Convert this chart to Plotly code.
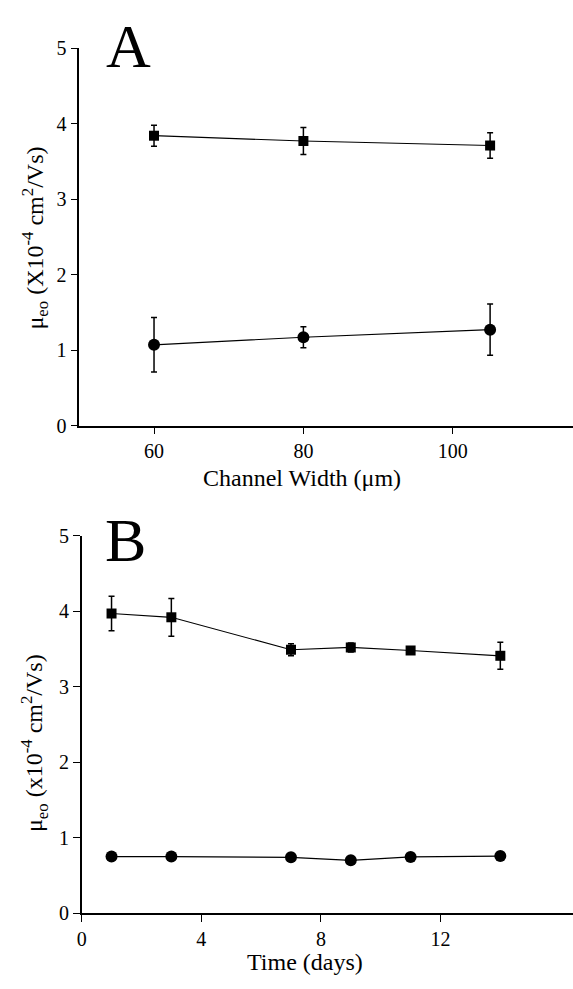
import plotly.graph_objects as go

# Panel A: channel width
width_um = [60, 80, 105]
a_square = [3.84, 3.77, 3.71]
a_square_err = [0.14, 0.18, 0.17]
a_circle = [1.07, 1.17, 1.27]
a_circle_err = [0.36, 0.14, 0.34]

# Panel B: time
time_days = [1, 3, 7, 9, 11, 14]
b_square = [3.97, 3.92, 3.49, 3.52, 3.48, 3.41]
b_square_err = [0.23, 0.25, 0.08, 0.06, 0.03, 0.18]
b_circle = [0.75, 0.75, 0.74, 0.70, 0.745, 0.757]
b_circle_err = [0.0, 0.0, 0.0, 0.0, 0.0, 0.05]

a_xticks = [60, 80, 100]
b_xticks = [0, 4, 8, 12]
yticks = [0, 1, 2, 3, 4, 5]

W, H = 573, 989
FONT = "Liberation Serif, Times New Roman, serif"

fig = go.Figure()

def add_series(x, y, err, symbol, size, xa, ya):
    fig.add_trace(go.Scatter(
        x=x, y=y, mode="lines+markers",
        line=dict(color="black", width=1.2),
        marker=dict(symbol=symbol, size=size, color="black"),
        error_y=dict(type="data", array=err, visible=True, color="black",
                     thickness=1.5, width=3),
        xaxis=xa, yaxis=ya, showlegend=False, cliponaxis=False))

add_series(width_um, a_square, a_square_err, "square", 10, "x", "y")
add_series(width_um, a_circle, a_circle_err, "circle", 12, "x", "y")
add_series(time_days, b_square, b_square_err, "square", 10, "x2", "y2")
add_series(time_days, b_circle, b_circle_err, "circle", 12, "x2", "y2")

axis_common = dict(showline=True, linecolor="black", linewidth=1.5,
                   ticks="outside", ticklen=7, tickwidth=1.3, tickcolor="black",
                   showgrid=False, zeroline=False,
                   tickfont=dict(family=FONT, size=20, color="black"))

def py(pix):
    return 1 - pix / H

fig.update_layout(
    width=W, height=H,
    margin=dict(l=0, r=0, t=0, b=0),
    paper_bgcolor="white", plot_bgcolor="white",
    xaxis=dict(domain=[75 / W, 1], range=[50, 116.1], tickvals=a_xticks,
               anchor="y", **axis_common),
    yaxis=dict(domain=[py(424), py(38)], range=[0, 5], tickvals=yticks,
               anchor="x", **axis_common),
    xaxis2=dict(domain=[77.3 / W, 1], range=[0, 16.43], tickvals=b_xticks,
                anchor="y2", **axis_common),
    yaxis2=dict(domain=[py(922.7), py(536.7)], range=[0, 5], tickvals=yticks,
                anchor="x2", **axis_common),
)

ann_font = dict(family=FONT, size=24, color="black")
ytitle_a = "μ<sub>eo</sub> (X10<sup>-4</sup> cm<sup>2</sup>/Vs)"
ytitle_b = "μ<sub>eo</sub> (x10<sup>-4</sup> cm<sup>2</sup>/Vs)"

annotations = [
    dict(text="A", x=125 / W, y=py(36), xref="paper", yref="paper",
         showarrow=False, font=dict(family=FONT, size=62, color="black"),
         xanchor="center", yanchor="middle"),
    dict(text="B", x=122 / W, y=py(541), xref="paper", yref="paper",
         showarrow=False, font=dict(family=FONT, size=62, color="black"),
         xanchor="center", yanchor="middle"),
    dict(text="Channel Width (μm)", x=300 / W, y=py(478), xref="paper", yref="paper",
         showarrow=False, font=ann_font, xanchor="center", yanchor="middle"),
    dict(text="Time (days)", x=303 / W, y=py(973), xref="paper", yref="paper",
         showarrow=False, font=ann_font, xanchor="center", yanchor="middle"),
    dict(text=ytitle_a, x=30 / W, y=py(232), xref="paper", yref="paper",
         showarrow=False, font=ann_font, textangle=-90,
         xanchor="center", yanchor="middle"),
    dict(text=ytitle_b, x=30 / W, y=py(749), xref="paper", yref="paper",
         showarrow=False, font=ann_font, textangle=-90,
         xanchor="center", yanchor="middle"),
]
fig.update_layout(annotations=annotations)

fig.write_html("out.html")
